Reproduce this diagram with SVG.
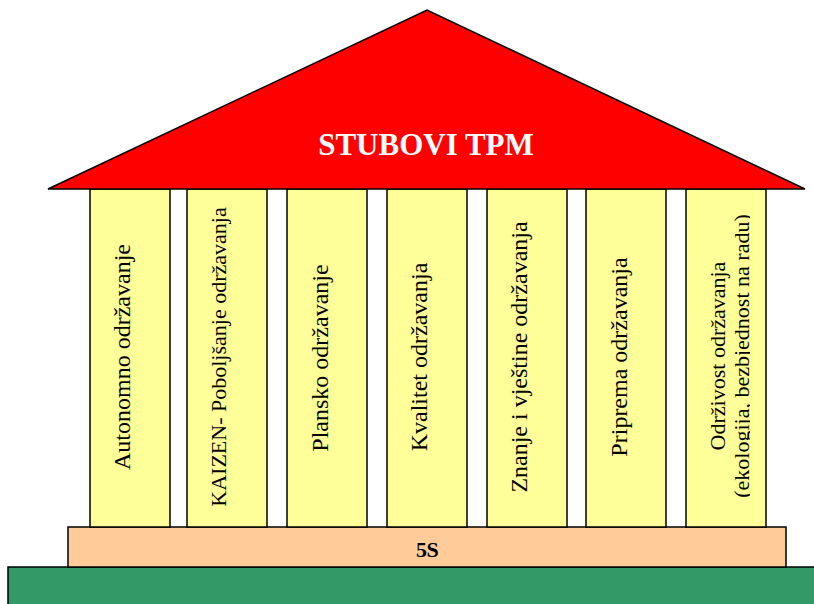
<svg xmlns="http://www.w3.org/2000/svg" width="814" height="604" viewBox="0 0 814 604">
<style>
.col{fill:#FFFF99;stroke:#000;stroke-width:1.5}
text{font-family:'Liberation Serif','Times New Roman',serif}
</style>
<defs>
<clipPath id="c7"><rect x="686" y="189" width="64" height="338"/></clipPath>
</defs>
<rect width="814" height="604" fill="#fff"/>
<g id="ground"><rect x="8" y="567" width="810" height="40" fill="#339966" stroke="#000" stroke-width="1.5"/></g>
<g id="base"><rect x="68" y="527" width="718" height="40" fill="#FFCC99" stroke="#000" stroke-width="1.5"/>
<text x="427" y="557" font-family="Liberation Serif, serif" font-size="22" font-weight="bold" text-anchor="middle" letter-spacing="-0.5">5S</text></g>
<g id="p1"><rect class="col" x="90" y="189" width="80" height="338"/><text font-family="Liberation Serif, serif" font-size="24" text-anchor="middle" transform="translate(130,357) rotate(-90)">Autonomno održavanje</text></g>
<g id="p2"><rect class="col" x="187" y="189" width="80" height="338"/><text font-family="Liberation Serif, serif" font-size="22" text-anchor="middle" transform="translate(226,357) rotate(-90)">KAIZEN- Poboljšanje održavanja</text></g>
<g id="p3"><rect class="col" x="287" y="189" width="80" height="338"/><text font-family="Liberation Serif, serif" font-size="24" text-anchor="middle" transform="translate(328,358) rotate(-90)">Plansko održavanje</text></g>
<g id="p4"><rect class="col" x="387" y="189" width="80" height="338"/><text font-family="Liberation Serif, serif" font-size="24" text-anchor="middle" transform="translate(427,357) rotate(-90)">Kvalitet održavanja</text></g>
<g id="p5"><rect class="col" x="487" y="189" width="80" height="338"/><text font-family="Liberation Serif, serif" font-size="24" text-anchor="middle" transform="translate(527,357) rotate(-90)">Znanje i vještine održavanja</text></g>
<g id="p6"><rect class="col" x="586" y="189" width="80" height="338"/><text font-family="Liberation Serif, serif" font-size="24" text-anchor="middle" transform="translate(627,357) rotate(-90)">Priprema održavanja</text></g>
<g id="p7"><rect class="col" x="686" y="189" width="80" height="338"/>
<text font-family="Liberation Serif, serif" font-size="22" text-anchor="middle" transform="translate(725,356) rotate(-90)">Održivost održavanja</text>
<g clip-path="url(#c7)"><text font-family="Liberation Serif, serif" font-size="22" text-anchor="middle" transform="translate(749,356) rotate(-90)">(ekologija, bezbjednost na radu)</text></g></g>
<g id="roof"><polygon points="48,189 427,10 805,189" fill="#FF0000" stroke="#000" stroke-width="1.5"/>
<text x="426" y="155" font-family="Liberation Serif, serif" font-size="31" font-weight="bold" fill="#fff" text-anchor="middle">STUBOVI TPM</text></g>
<g id="connectors"/>
</svg>
